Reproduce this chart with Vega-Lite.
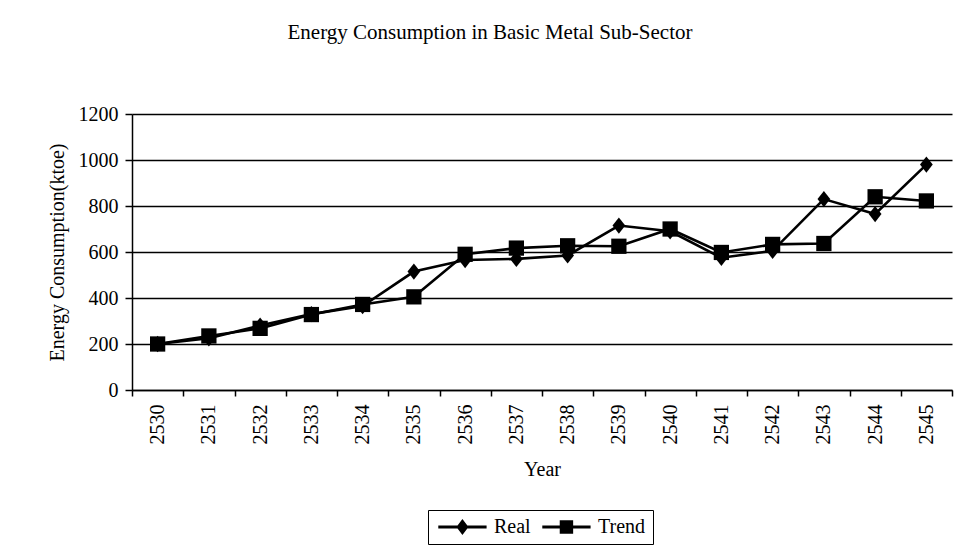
{
  "$schema": "https://vega.github.io/schema/vega-lite/v6.json",
  "width": 820,
  "height": 276,
  "autosize": {"type": "none"},
  "padding": {"left": 132, "top": 114, "right": 11, "bottom": 159},
  "background": "white",
  "config": {
    "font": "Liberation Serif",
    "view": {"stroke": null}
  },
  "title": {
    "text": "Energy Consumption in Basic Metal Sub-Sector",
    "font": "Liberation Serif",
    "fontSize": 21,
    "fontWeight": "normal",
    "color": "black",
    "anchor": "middle",
    "frame": "group",
    "dx": -52,
    "baseline": "alphabetic",
    "offset": 44
  },
  "data": {
    "values": [
      {"Year": "2530", "series": "Real", "value": 200},
      {"Year": "2531", "series": "Real", "value": 225},
      {"Year": "2532", "series": "Real", "value": 280},
      {"Year": "2533", "series": "Real", "value": 330},
      {"Year": "2534", "series": "Real", "value": 365},
      {"Year": "2535", "series": "Real", "value": 515},
      {"Year": "2536", "series": "Real", "value": 565},
      {"Year": "2537", "series": "Real", "value": 570},
      {"Year": "2538", "series": "Real", "value": 585},
      {"Year": "2539", "series": "Real", "value": 715},
      {"Year": "2540", "series": "Real", "value": 690},
      {"Year": "2541", "series": "Real", "value": 575},
      {"Year": "2542", "series": "Real", "value": 605},
      {"Year": "2543", "series": "Real", "value": 830},
      {"Year": "2544", "series": "Real", "value": 765},
      {"Year": "2545", "series": "Real", "value": 980},
      {"Year": "2530", "series": "Trend", "value": 200},
      {"Year": "2531", "series": "Trend", "value": 235},
      {"Year": "2532", "series": "Trend", "value": 268},
      {"Year": "2533", "series": "Trend", "value": 328},
      {"Year": "2534", "series": "Trend", "value": 372},
      {"Year": "2535", "series": "Trend", "value": 405},
      {"Year": "2536", "series": "Trend", "value": 590},
      {"Year": "2537", "series": "Trend", "value": 617},
      {"Year": "2538", "series": "Trend", "value": 627},
      {"Year": "2539", "series": "Trend", "value": 625},
      {"Year": "2540", "series": "Trend", "value": 700},
      {"Year": "2541", "series": "Trend", "value": 598},
      {"Year": "2542", "series": "Trend", "value": 633},
      {"Year": "2543", "series": "Trend", "value": 637},
      {"Year": "2544", "series": "Trend", "value": 840},
      {"Year": "2545", "series": "Trend", "value": 822}
    ]
  },
  "encoding": {
    "x": {
      "field": "Year",
      "type": "ordinal",
      "scale": {"paddingInner": 0, "paddingOuter": 0},
      "axis": {
        "title": "Year",
        "titleFont": "Liberation Serif",
        "titleFontSize": 20,
        "titleFontWeight": "normal",
        "titleColor": "black",
        "titlePadding": 15,
        "labelAngle": -90,
        "labelFont": "Liberation Serif",
        "labelFontSize": 20,
        "labelColor": "black",
        "labelPadding": 8,
        "tickBand": "extent",
        "tickColor": "black",
        "tickSize": 6,
        "tickWidth": 1.5,
        "domainColor": "black",
        "domainWidth": 1.5,
        "grid": false
      }
    },
    "y": {
      "field": "value",
      "type": "quantitative",
      "scale": {"domain": [0, 1200], "nice": false},
      "axis": {
        "title": "Energy Consumption(ktoe)",
        "titleFont": "Liberation Serif",
        "titleFontSize": 20,
        "titleFontWeight": "normal",
        "titleColor": "black",
        "titlePadding": 11,
        "values": [0, 200, 400, 600, 800, 1000, 1200],
        "format": "d",
        "labelFont": "Liberation Serif",
        "labelFontSize": 20,
        "labelColor": "black",
        "labelPadding": 7,
        "tickColor": "black",
        "tickSize": 7,
        "tickWidth": 1.5,
        "domainColor": "black",
        "domainWidth": 1.5,
        "grid": true,
        "gridColor": "black",
        "gridWidth": 1.3,
        "gridOpacity": 1
      }
    }
  },
  "layer": [
    {
      "mark": {"type": "point", "filled": true, "color": "black", "opacity": 0, "size": 1},
      "encoding": {
        "shape": {
          "field": "series",
          "type": "nominal",
          "scale": {
            "domain": ["Real", "Trend"],
            "range": [
              "M-1,-0.22H6.2V0.22H-1Z M2.6,-1.2L3.5,0L2.6,1.2L1.7,0Z",
              "M-1,-0.22H6.2V0.22H-1Z M1.6,-1H3.6V1H1.6Z"
            ]
          },
          "legend": {
            "title": null,
            "orient": "none",
            "legendX": 296,
            "legendY": 396,
            "direction": "horizontal",
            "strokeColor": "black",
            "padding": 7,
            "symbolSize": 180,
            "symbolOpacity": 1,
            "symbolFillColor": "black",
            "symbolStrokeColor": "black",
            "symbolStrokeWidth": 0,
            "labelFont": "Liberation Serif",
            "labelFontSize": 20,
            "labelColor": "black",
            "labelOffset": 39,
            "columnPadding": 8
          }
        }
      }
    },
    {
      "mark": {"type": "line", "color": "black", "strokeWidth": 2.6},
      "encoding": {"detail": {"field": "series", "type": "nominal"}}
    },
    {
      "mark": {"type": "point", "filled": true, "color": "black", "opacity": 1, "size": 200},
      "encoding": {
        "shape": {
          "field": "series",
          "type": "nominal",
          "scale": {
            "domain": ["Real", "Trend"],
            "range": ["M0,-1.15L0.9,0L0,1.15L-0.9,0Z", "M-1.08,-1.08H1.08V1.08H-1.08Z"]
          },
          "legend": null
        }
      }
    }
  ],
  "resolve": {"scale": {"shape": "independent"}, "legend": {"shape": "independent"}}
}
